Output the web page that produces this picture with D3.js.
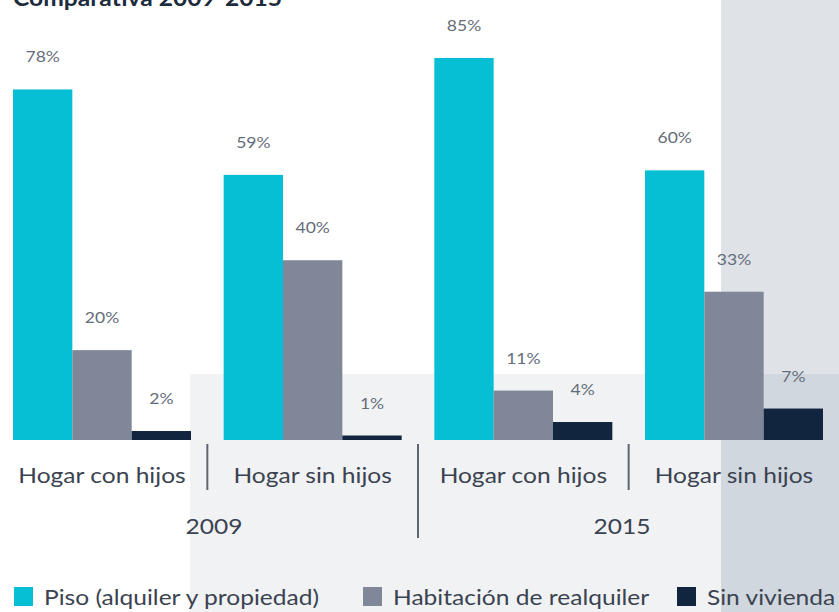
<!DOCTYPE html>
<html><head><meta charset="utf-8">
<script src="https://cdn.jsdelivr.net/npm/d3@7"></script>
<style>html,body{margin:0;padding:0;background:#fff;}svg{display:block;font-family:Lato,"Noto Sans",sans-serif;}</style>
</head><body>
<script>
const title = "Comparativa 2009-2015";
const groups = ["2009|con", "2009|sin", "2015|con", "2015|sin"];
const groupLabels = ["Hogar con hijos", "Hogar sin hijos", "Hogar con hijos", "Hogar sin hijos"];
const years = ["2009", "2015"];
const seriesNames = ["Piso (alquiler y propiedad)", "Habitación de realquiler", "Sin vivienda"];
const piso = [78, 59, 85, 60];
const habitacion = [20, 40, 11, 33];
const sinVivienda = [2, 1, 4, 7];
const colors = ["#06bfd4", "#7f8798", "#12253f"];

const W = 839, H = 612;
const SX = 1.17; // horizontal stretch of text seen in the reference
const svg = d3.select("body").append("svg").attr("width", W).attr("height", H);
const pos = (x, y, s = SX) => `translate(${x},${y}) scale(${s},1)`;

// background panels
svg.append("rect").attr("x", 190).attr("y", 374).attr("width", W - 190).attr("height", H - 374).attr("fill", "#f0f2f4");
svg.append("rect").attr("x", 721).attr("y", 0).attr("width", W - 721).attr("height", 374).attr("fill", "#dfe3e8");
svg.append("rect").attr("x", 721).attr("y", 374).attr("width", W - 721).attr("height", H - 374).attr("fill", "#d1d7df");

svg.append("text").attr("transform", pos(13, 6, 1.12)).attr("font-size", 22).attr("font-weight", 700)
  .attr("fill", "#1d2b3e").text(title);

const x0 = d3.scaleBand().domain(groups).range([13, 823]).paddingInner(0.155).paddingOuter(0);
const x1 = d3.scaleBand().domain(seriesNames).range([0, x0.bandwidth()]).padding(0);
const y = d3.scaleLinear().domain([0, 85]).range([440, 58]);

const data = groups.map((g, i) => ({g, vals: [piso[i], habitacion[i], sinVivienda[i]]}));

const gg = svg.selectAll("g.grp").data(data).join("g").attr("class", "grp")
  .attr("transform", d => `translate(${x0(d.g)},0)`);
gg.selectAll("rect").data(d => d.vals.map((v, k) => ({v, k})))
  .join("rect")
  .attr("x", d => x1(seriesNames[d.k]))
  .attr("width", x1.bandwidth())
  .attr("y", d => y(d.v))
  .attr("height", d => y(0) - y(d.v))
  .attr("fill", d => colors[d.k]);
gg.selectAll("text").data(d => d.vals.map((v, k) => ({v, k})))
  .join("text")
  .attr("transform", d => pos(x1(seriesNames[d.k]) + x1.bandwidth() / 2, y(d.v) - 27))
  .attr("text-anchor", "middle")
  .attr("font-size", 15)
  .attr("fill", "#656d7a")
  .text(d => d.v + "%");

// category axis labels
svg.selectAll("text.cat").data(groups).join("text").attr("class", "cat")
  .attr("transform", d => pos(x0(d) + x0.bandwidth() / 2, 483))
  .attr("text-anchor", "middle")
  .attr("font-size", 21)
  .attr("fill", "#3b4350")
  .text((d, i) => groupLabels[i]);

// separators
const sepX = [0, 1, 2].map(i => (x0(groups[i]) + x0.bandwidth() + x0(groups[i + 1])) / 2);
svg.selectAll("line.sep").data(sepX).join("line").attr("class", "sep")
  .attr("x1", d => d).attr("x2", d => d)
  .attr("y1", 444)
  .attr("y2", (d, i) => i === 1 ? 538 : 490)
  .attr("stroke", "#5f6672").attr("stroke-width", 2);

// year labels
const yearX = d3.scalePoint().domain(years).range([214, 622]);
svg.selectAll("text.yr").data(years).join("text").attr("class", "yr")
  .attr("transform", d => pos(yearX(d), 534))
  .attr("text-anchor", "middle").attr("font-size", 21).attr("fill", "#3b4350")
  .text(d => d);

// legend
const legX = [14, 363, 677];
const lg = svg.selectAll("g.leg").data(seriesNames).join("g").attr("class", "leg")
  .attr("transform", (d, i) => `translate(${legX[i]},587)`);
lg.append("rect").attr("width", 19).attr("height", 19).attr("fill", (d, i) => colors[i]);
lg.append("text").attr("transform", pos(30, 18)).attr("font-size", 21).attr("fill", "#3b4350").text(d => d);
</script>
</body></html>
